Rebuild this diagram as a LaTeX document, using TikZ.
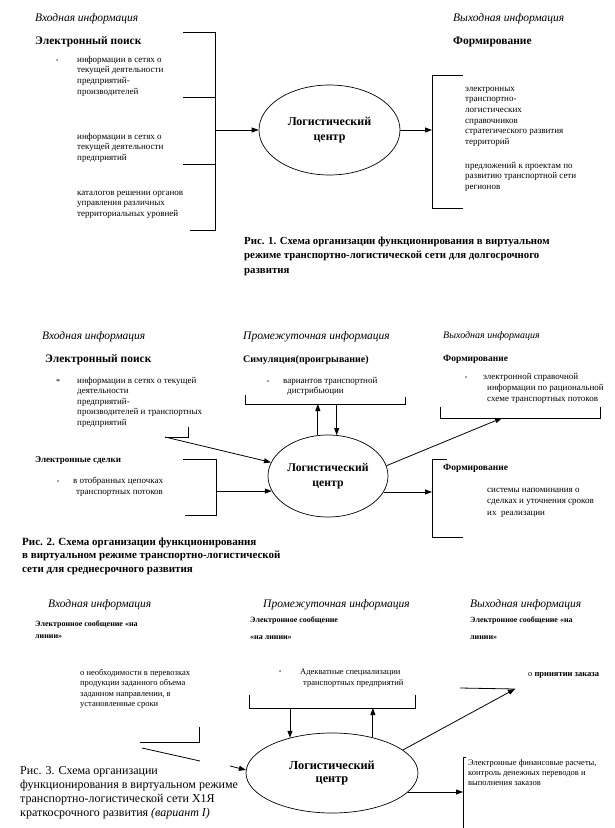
\documentclass[tikz,border=0pt]{standalone}
\usepackage{fontspec}
\setmainfont{Liberation Serif}
\usetikzlibrary{shapes.geometric,arrows.meta}
\newcommand{\ml}[1]{\begin{tabular}[t]{@{}l@{}}#1\end{tabular}}
\tikzset{
  txt/.style={inner sep=0pt, anchor=base west},
  hit/.style={txt, font=\fontsize{11.5}{13}\selectfont\itshape},
  hbf/.style={txt, font=\fontsize{11.5}{13}\selectfont\bfseries},
  body/.style={txt, font=\fontsize{9}{10.7}\selectfont},
  small/.style={txt, font=\fontsize{8.5}{10.6}\selectfont},
  sbf/.style={txt, font=\fontsize{8}{12}\selectfont\bfseries},
  dot/.style={txt, font=\fontsize{6}{7}\selectfont},
  lc/.style={ellipse, draw, line width=0.7pt, inner sep=0pt, align=center, font=\fontsize{12}{15.5}\selectfont\bfseries},
  ln/.style={line width=0.8pt},
  arr/.style={ln, -{Triangle[length=7pt,width=5pt]}},
  figcap/.style={txt, font=\fontsize{10.8}{14.5}\selectfont\bfseries},
}
\begin{document}
\begin{tikzpicture}[x=1pt,y=-1pt]
\useasboundingbox (0,0) rectangle (615,828);
% ================= Figure 1 =================
\node[hit] (in1) at (35,21) {Входная информация};
\node[hbf] (s1) at (35,44) {Электронный поиск};
\node[dot] (b1) at (56,62) {•};
\node[body] (t1a) at (77,62) {\ml{информации в сетях о\\текущей деятельности\\предприятий-\\производителей}};
\node[body] (t1b) at (77,139) {\ml{информации в сетях о\\текущей деятельности\\предприятий}};
\node[body] (t1c) at (77,195) {\ml{каталогов решении органов\\управления различных\\территориальных уровней}};
\coordinate (L1t) at (215,32);
\coordinate (L1b) at (215,230);
\coordinate (L1m) at (215,130);
\draw[ln] (183,32) -- (L1t) -- (L1b) -- (190,230);
\draw[ln] (183,97) -- (215,97);
\draw[ln] (183,164) -- (215,164);
\node[lc, minimum width=141pt, minimum height=90pt] (e1) at (329.5,130) {Логистический\\центр};
\draw[arr] (L1m) -- (e1.west);
\coordinate (R1t) at (432,75);
\coordinate (R1b) at (432,208);
\draw[ln] (463,75) -- (R1t) -- (R1b) -- (463,208);
\draw[arr] (e1.east) -- (e1.east -| R1t);
\node[hit] (out1) at (453,21) {Выходная информация};
\node[hbf] (f1) at (453,44) {Формирование};
\node[body] (r1a) at (465,91) {\ml{электронных\\транспортно-\\логистических\\справочников\\стратегического развития\\территорий}};
\node[body] (r1b) at (465,168) {\ml{предложений к проектам по\\развитию транспортной сети\\регионов}};
\node[figcap] (c1) at (244,244) {\ml{Рис. 1. Схема организации функционирования в виртуальном\\режиме транспортно-логистической сети для долгосрочного\\развития}};
% ================= Figure 2 =================
\node[hit] (in2) at (42,339) {Входная информация};
\node[hbf] (s2) at (45,362) {Электронный поиск};
\node[txt, font=\fontsize{8}{9}\selectfont] (b2) at (56,384) {*};
\node[body, font=\fontsize{9}{10.6}\selectfont] (t2a) at (77,383) {\ml{информации в сетях о текущей\\деятельности\\предприятий-\\производителей и транспортных\\предприятий}};
\coordinate (A2s) at (165,437);
\draw[ln] (A2s) -- (188,437) -- (188,427);
\node[lc, minimum width=120pt, minimum height=82pt, font=\fontsize{11.7}{14.5}\selectfont\bfseries] (e2) at (328,476) {Логистический\\центр};
\draw[arr] (A2s) -- (e2);
\node[txt, font=\fontsize{9}{11}\selectfont\bfseries] (d2) at (35,462) {Электронные сделки};
\node[dot] (b2b) at (57,483) {•};
\node[body, font=\fontsize{9}{11}\selectfont] (t2b) at (73,483) {\ml{в отобранных цепочках\\\hspace{3pt}транспортных потоков}};
\coordinate (L2t) at (216,459);
\coordinate (L2b) at (216,515);
\draw[ln] (183,459) -- (L2t) -- (L2b) -- (185,515);
\draw[arr] (e2.195 -| L2t) -- (e2.195);
\node[figcap, font=\fontsize{11}{13.8}\selectfont\bfseries] (c2) at (22,545) {\ml{Рис. 2. Схема организации функционирования\\в виртуальном режиме транспортно-логистической\\сети для среднесрочного развития}};
% middle
\node[hit] (mid2) at (243,339) {Промежуточная информация};
\node[txt, font=\fontsize{10}{12}\selectfont\bfseries] (sim2) at (243,362) {Симуляция(проигрывание)};
\node[dot] (b2m) at (267,383) {•};
\node[body] (t2m) at (283,383) {\ml{вариантов транспортной\\\hspace{4pt}дистрибьюции}};
\coordinate (M2l) at (245,404);
\coordinate (M2r) at (405,404);
\draw[ln] (245,395) -- (M2l) -- (M2r) -- (405,397);
\draw[arr] (e2.104) -- (e2.104 |- M2l);
\draw[arr] (e2.78 |- M2l) -- (e2.78);
% right
\node[hit, font=\fontsize{10}{12}\selectfont\itshape] (out2) at (443,338) {Выходная информация};
\node[txt, font=\fontsize{9.5}{11}\selectfont\bfseries] (f2a) at (443,361) {Формирование};
\node[dot] (b2r) at (465,379) {•};
\node[body, font=\fontsize{9}{11.3}\selectfont] (t2r) at (483,379) {\ml{электронной справочной\\\hspace{4pt}информации по рациональной\\\hspace{4pt}схеме транспортных потоков}};
\coordinate (R2l) at (440,418);
\coordinate (R2r) at (600,418);
\coordinate (R2a) at (502,418);
\draw[ln] (440,407) -- (R2l) -- (R2r) -- (600,407);
\draw[arr] (e2.10) -- (R2a);
\coordinate (R2t) at (432,459);
\coordinate (R2b) at (432,537);
\draw[ln] (447,459) -- (R2t) -- (R2b) -- (463,537);
\draw[arr] (e2.-16) -- (e2.-16 -| R2t);
\node[txt, font=\fontsize{9.5}{11}\selectfont\bfseries] (f2b) at (443,470) {Формирование};
\node[body, font=\fontsize{9}{11.5}\selectfont] (t2r2) at (487,492) {\ml{системы напоминания о\\сделках и уточнения сроков\\их\ \ реализации}};
% ================= Figure 3 =================
\node[hit] (in3) at (48,607) {Входная информация};
\node[sbf] (m3a) at (35,626) {\ml{Электронное сообщение «на\\линии»}};
\node[small] (t3a) at (80,675) {\ml{о необходимости в перевозках\\продукции заданного объема\\заданном направлении, в\\установленные сроки}};
\draw[ln] (140,742) -- (199,742) -- (199,727);
\coordinate (S3a) at (142,748);
\coordinate (S3b) at (200,761);
\draw[ln] (S3a) -- (S3b);
\coordinate (S3c) at (230,766);
\node[lc, minimum width=172pt, minimum height=80pt, font=\fontsize{12.3}{13}\selectfont\bfseries] (e3) at (332,773) {Логистический\\центр};
\draw[arr] (S3c) -- (e3.178);
\node[txt, font=\fontsize{12}{14.2}\selectfont] (c3) at (20,774) {\ml{Рис. 3. Схема организации\\функционирования в виртуальном режиме\\транспортно-логистической сети Х1Я\\краткосрочного развития \textit{(вариант I)}}};
% middle
\node[hit] (mid3) at (263,607) {Промежуточная информация};
\node[sbf, font=\fontsize{8}{17}\selectfont\bfseries] (m3b) at (250,622) {\ml{Электронное сообщение\\«на линии»}};
\node[dot] (b3m) at (279,673) {•};
\node[small, font=\fontsize{8.5}{11.5}\selectfont] (t3m) at (300,674) {\ml{Адекватные специализации\\\hspace{3pt}транспортных предприятий}};
\coordinate (M3l) at (249,708);
\coordinate (M3r) at (415,708);
\draw[ln] (249,695) -- (M3l) -- (M3r) -- (415,695);
\draw[arr] (e3.140 |- M3l) -- (e3.140);
\draw[arr] (e3.41) -- (e3.41 |- M3l);
% right
\node[hit] (out3) at (470,607) {Выходная информация};
\node[sbf, font=\fontsize{8}{17}\selectfont\bfseries] (m3c) at (470,622) {\ml{Электронное сообщение «на\\линии»}};
\node[txt, font=\fontsize{8.5}{10}\selectfont] (acc3) at (528,676) {о \textbf{принятии заказа}};
\coordinate (P3) at (515,689);
\coordinate (H3) at (460,688);
\draw[ln] (H3) -- (P3);
\draw[arr] (e3.18) -- (P3);
\coordinate (V3t) at (463,757);
\coordinate (V3b) at (463,828);
\draw[ln] (466,757) -- (V3t) -- (V3b);
\draw[arr] (e3.-14) -- (e3.-14 -| V3t);
\node[small, font=\fontsize{8.5}{10.3}\selectfont] (t3r) at (468,765) {\ml{Электронные финансовые расчеты,\\контроль денежных переводов и\\выполнения заказов}};
\end{tikzpicture}
\end{document}
